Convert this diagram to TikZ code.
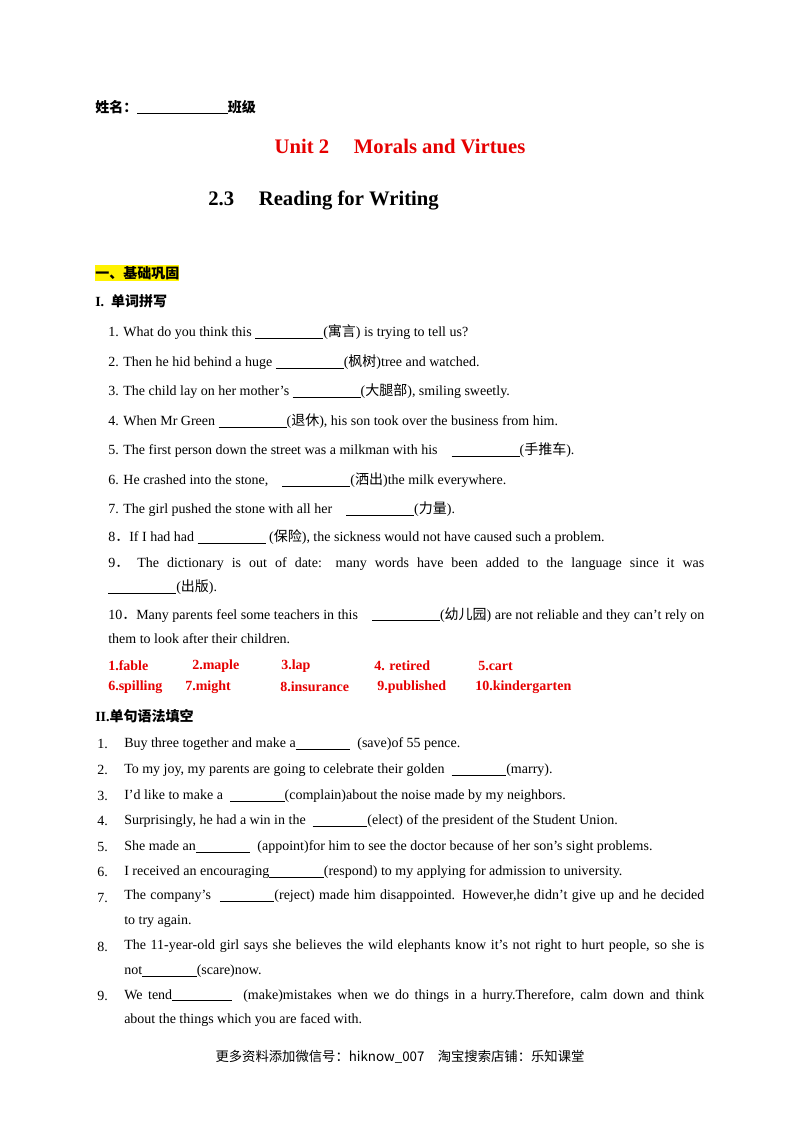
\documentclass[tikz,border=0pt]{standalone}
\usepackage{fontspec}
\setmainfont{Liberation Serif}
\newfontfamily\cjk{Noto Sans CJK SC}
\definecolor{myred}{RGB}{230,0,0}
\newcommand\bl[1]{\rule[-1.5pt]{#1pt}{0.5pt}}
\newcommand\zh[1]{{\cjk #1}}
\begin{document}
\begin{tikzpicture}[x=0.75pt,y=-0.75pt,
  tx/.style={anchor=west,inner sep=0pt,font=\fontsize{10.5pt}{13pt}\selectfont},
  ans/.style={tx,font=\fontsize{10.5pt}{13pt}\selectfont\bfseries,text=myred},
  par/.style={tx,anchor=north west,text width=447pt,align=justify,font=\fontsize{10.5pt}{18.5pt}\selectfont},
  par2/.style={tx,anchor=north west,text width=435pt,align=justify,font=\fontsize{10.5pt}{18.5pt}\selectfont}]
\useasboundingbox (0,0) rectangle (800,1132);
\fill[white] (0,0) rectangle (800,1132);
\node[tx,font=\fontsize{10.5pt}{13pt}\selectfont\bfseries] (name) at (95,107) {\zh{\bfseries 姓名：}\bl{68}\zh{\bfseries 班级}};
\node[inner sep=0pt,font=\fontsize{15.5pt}{18pt}\selectfont\bfseries,text=myred] (title) at (400,146) {Unit 2\hspace{1.2em}Morals and Virtues};
\node[tx,font=\fontsize{15.5pt}{18pt}\selectfont\bfseries] (sub) at (208,200) {2.3\hspace{1.2em}Reading for Writing};
\node[tx,fill=yellow,inner ysep=1pt,font=\fontsize{10.5pt}{13pt}\selectfont\cjk\bfseries] (h1) at (95,273) {一、基础巩固};
\node[tx,font=\fontsize{10.5pt}{13pt}\selectfont\bfseries] (h2) at (95,301) {I.\ \ \zh{\bfseries 单词拼写}};
\node[tx] (a1) at (108,332) {1. What do you think this \bl{51}(\zh{寓言}) is trying to tell us?};
\node[tx] (a2) at (108,362) {2. Then he hid behind a huge \bl{51}(\zh{枫树})tree and watched.};
\node[tx] (a3) at (108,391) {3. The child lay on her mother’s \bl{51}(\zh{大腿部}), smiling sweetly.};
\node[tx] (a4) at (108,421) {4. When Mr Green \bl{51}(\zh{退休}), his son took over the business from him.};
\node[tx] (a5) at (108,450) {5. The first person down the street was a milkman with his\ \ \ \ \bl{51}(\zh{手推车}).};
\node[tx] (a6) at (108,480) {6. He crashed into the stone,\ \ \ \ \bl{51}(\zh{洒出})the milk everywhere.};
\node[tx] (a7) at (108,509) {7. The girl pushed the stone with all her\ \ \ \ \bl{51}(\zh{力量}).};
\node[tx] (a8) at (108,537) {8\zh{．}If I had had \bl{51} (\zh{保险}), the sickness would not have caused such a problem.};
\node[par] (a9) at (108,557) {9\zh{．} The dictionary is out of date: many words have been added to the language since it was\linebreak \bl{51}(\zh{出版}).};
\node[par] (a10) at (108,607) {10\zh{．}Many parents feel some teachers in this\ \ \ \ \bl{51}(\zh{幼儿园}) are not reliable and they can't rely on them to look after their children.};
\node[ans] (r1) at (108,666) {1.fable};
\node[ans] (r2) at (192,666) {2.maple};
\node[ans] (r3) at (281,666) {3.lap};
\node[ans] (r4) at (374,666) {4. retired};
\node[ans] (r5) at (478,666) {5.cart};
\node[ans] (r6) at (108,687) {6.spilling};
\node[ans] (r7) at (185,687) {7.might};
\node[ans] (r8) at (280,687) {8.insurance};
\node[ans] (r9) at (377,687) {9.published};
\node[ans] (r10) at (475,687) {10.kindergarten};
\node[tx,font=\fontsize{10.5pt}{13pt}\selectfont\bfseries] (h3) at (95,716) {II.\zh{\bfseries 单句语法填空}};
\foreach \n/\y in {1/744,2/770,3/796,4/821,5/847,6/872,7/898,8/947,9/996}
  \node[tx] (n\n) at (97,\y) {\n.};
\node[tx] (b1) at (124,744) {Buy three together and make a\bl{41}\ \ (save)of 55 pence.};
\node[tx] (b2) at (124,770) {To my joy, my parents are going to celebrate their golden\ \ \bl{41}(marry).};
\node[tx] (b3) at (124,796) {I'd like to make a\ \ \bl{41}(complain)about the noise made by my neighbors.};
\node[tx] (b4) at (124,821) {Surprisingly, he had a win in the\ \ \bl{41}(elect) of the president of the Student Union.};
\node[tx] (b5) at (124,847) {She made an\bl{41}\ \ (appoint)for him to see the doctor because of her son's sight problems.};
\node[tx] (b6) at (124,872) {I received an encouraging\bl{41}(respond) to my applying for admission to university.};
\node[par2] (b7) at (124,890) {The company's\ \ \bl{41}(reject) made him disappointed. However,he didn't give up and he decided\linebreak to try again.};
\node[par2] (b8) at (124,940) {The 11-year-old girl says she believes the wild elephants know it's not right to hurt people, so she is\linebreak not\bl{41}(scare)now.};
\node[par2] (b9) at (124,989) {We tend\rule[-1.5pt]{45pt}{0.8pt}\ \ (make)mistakes when we do things in a hurry.Therefore, calm down and think\linebreak about the things which you are faced with.};
\node[inner sep=0pt,font=\fontsize{10pt}{13pt}\selectfont\cjk] (foot) at (400,1057) {更多资料添加微信号：hiknow\_007\hspace{1em}淘宝搜索店铺：乐知课堂};
\end{tikzpicture}
\end{document}
